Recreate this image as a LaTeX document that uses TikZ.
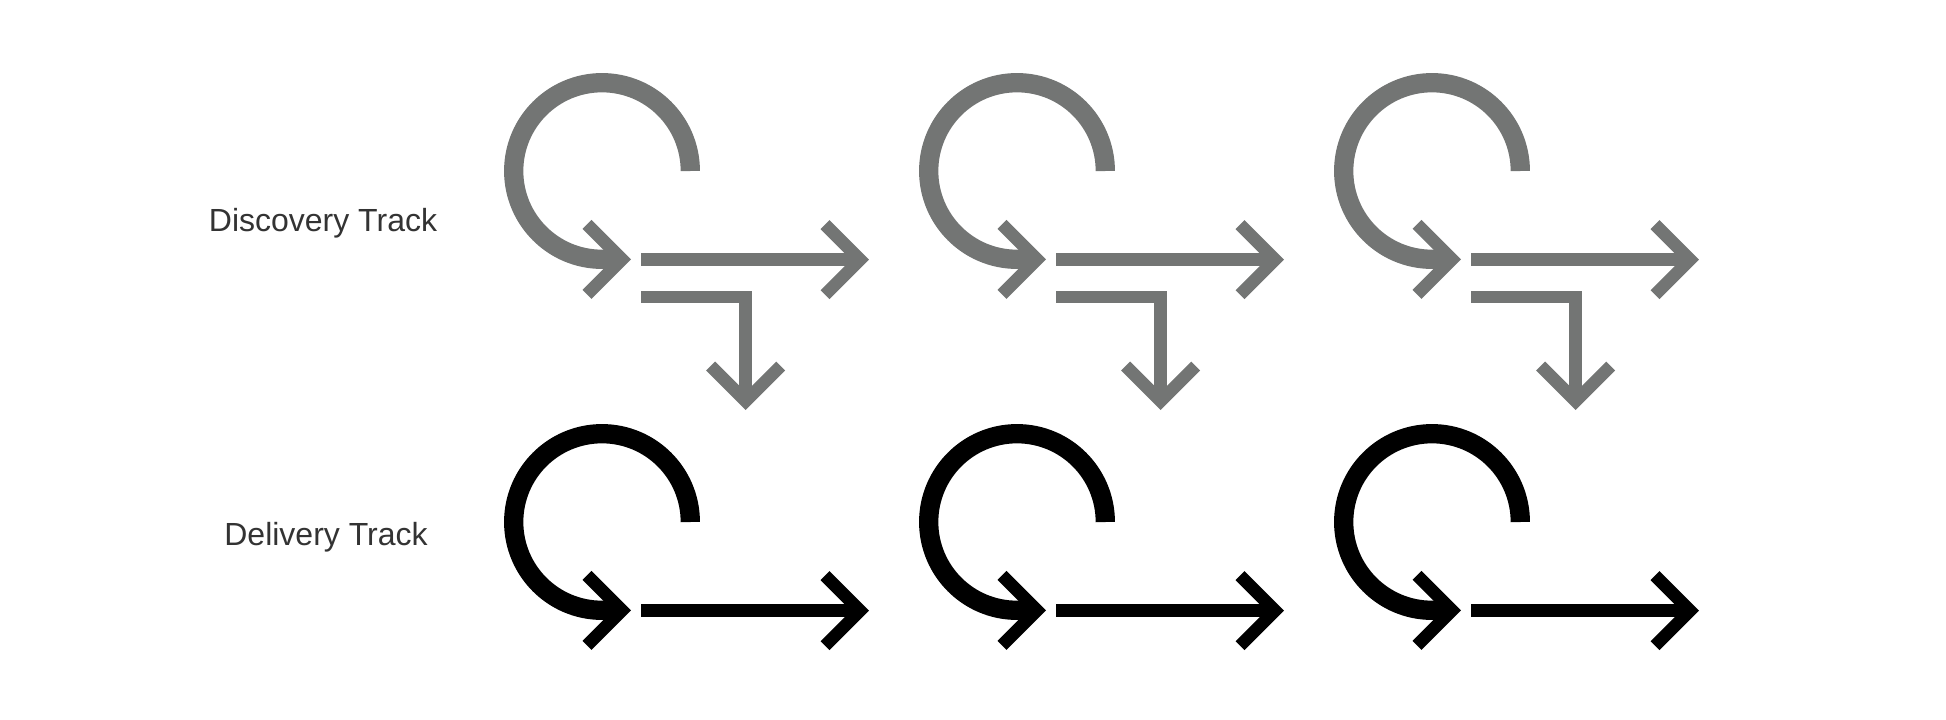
\documentclass[tikz,border=0pt]{standalone}
\usepackage{fontspec}
\setmainfont{Liberation Sans}
\usetikzlibrary{arrows.meta}
\definecolor{trackGrey} {RGB}{115,117,116}
\definecolor{labelGrey} {RGB}{ 51, 51, 51}

\begin{document}
\begin{tikzpicture}[
  x=1pt, y=1pt,
  lbl/.style={anchor=base, text=labelGrey, font=\fontsize{32}{38}\selectfont},
  barb/.style={-{Straight Barb[length=35pt, width=70pt, line width=12.7pt 0, sharp]}},
  cyclearr/.style={barb, line width=19.3pt},
  flowarr/.style={barb, line width=12.7pt},
]
\useasboundingbox (0,0) rectangle (1946,-720);

%% Track labels
\node[lbl] (disc)  at (323,-231) {Discovery Track};
\node[lbl] (deliv) at (326,-545) {Delivery Track};

%% Discovery track -- loop, continue, branch off
\foreach \cx in {602,1017,1432}{
  \draw[cyclearr, trackGrey] (\cx+88.3,-171) arc[start angle=0, end angle=270, radius=88.3]
    -- (\cx+29,-259.3);
  \draw[flowarr, trackGrey] (\cx+39,-259.7) -- (\cx+267,-259.7);
  \draw[flowarr, trackGrey] (\cx+39,-297) -| (\cx+143.7,-410);
}

%% Delivery track -- loop, continue
\foreach \cx in {602,1017,1432}{
  \draw[cyclearr, black] (\cx+88.3,-522) arc[start angle=0, end angle=270, radius=88.3]
    -- (\cx+29,-610.3);
  \draw[flowarr, black] (\cx+39,-610.7) -- (\cx+267,-610.7);
}
\end{tikzpicture}
\end{document}
